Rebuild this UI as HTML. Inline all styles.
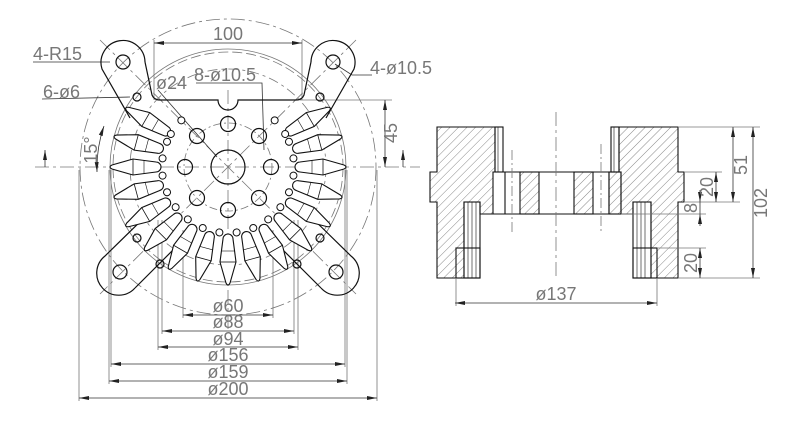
<!DOCTYPE html>
<html><head><meta charset="utf-8"><style>
html,body{margin:0;padding:0;background:#fff}
svg{display:block}
text{font-family:"Liberation Sans",sans-serif;fill:#777;font-size:18px}
</style></head><body>
<svg width="800" height="436" viewBox="0 0 800 436" xmlns="http://www.w3.org/2000/svg">
<defs>
<pattern id="h" patternUnits="userSpaceOnUse" width="6" height="6" patternTransform="rotate(45)">
<line x1="0" y1="0" x2="0" y2="6" stroke="#555" stroke-width="0.7"/>
</pattern>
<g id="tooth">
<path d="M72,-5 L95,-8 L116,-2 Q120,0 116,2 L95,8 L72,5 A5,5 0 0 1 72,-5 Z" fill="#fff" stroke="#111" stroke-width="1.1"/>
<line x1="95" y1="-8" x2="95" y2="8" stroke="#111" stroke-width="0.8"/>
<line x1="84" y1="-6.5" x2="84" y2="6.5" stroke="#111" stroke-width="0.6"/>
</g>
<marker id="a" viewBox="0 0 10 6" refX="10" refY="3" markerWidth="10" markerHeight="6" orient="auto-start-reverse" markerUnits="userSpaceOnUse"><path d="M0,1 L10,3 L0,5 Z" fill="#222"/></marker>
</defs>

<!-- LEFT VIEW -->
<g fill="none" stroke="#777" stroke-width="0.8">
<circle cx="228" cy="167" r="148" stroke-dasharray="14,4,3,4"/>
<circle cx="228" cy="167" r="118"/>
<circle cx="228" cy="167" r="115" stroke-dasharray="10,4"/>
<circle cx="228" cy="167" r="98" stroke-dasharray="10,4,3,4"/>
<circle cx="228" cy="167" r="44" stroke-dasharray="8,3,2,3"/>
<line x1="35" y1="167" x2="420" y2="167" stroke-dasharray="14,4,3,4"/>
<line x1="228" y1="90" x2="228" y2="330" stroke-dasharray="14,4,3,4"/>
<line x1="100" y1="40" x2="356" y2="294" stroke-dasharray="14,4,3,4"/>
<line x1="356" y1="40" x2="100" y2="294" stroke-dasharray="14,4,3,4"/>
<line x1="183" y1="230" x2="183" y2="318"/><line x1="273" y1="230" x2="273" y2="318"/>
<line x1="162" y1="220" x2="162" y2="334"/><line x1="294" y1="220" x2="294" y2="334"/>
<line x1="158" y1="220" x2="158" y2="350"/><line x1="298" y1="220" x2="298" y2="350"/>
<line x1="111" y1="170" x2="111" y2="367"/><line x1="345" y1="170" x2="345" y2="367"/>
<line x1="109" y1="170" x2="109" y2="384"/><line x1="347" y1="170" x2="347" y2="384"/>
<line x1="79" y1="170" x2="79" y2="401"/><line x1="377" y1="170" x2="377" y2="401"/>
<line x1="154" y1="40" x2="154" y2="100"/><line x1="302" y1="40" x2="302" y2="100"/>
<line x1="300" y1="100" x2="392" y2="100"/>
</g>
<g stroke="#333" stroke-width="0.8" fill="none">
<line x1="183" y1="315" x2="273" y2="315" marker-start="url(#a)" marker-end="url(#a)"/>
<line x1="162" y1="331" x2="294" y2="331" marker-start="url(#a)" marker-end="url(#a)"/>
<line x1="158" y1="347" x2="298" y2="347" marker-start="url(#a)" marker-end="url(#a)"/>
<line x1="111" y1="364" x2="345" y2="364" marker-start="url(#a)" marker-end="url(#a)"/>
<line x1="109" y1="381" x2="347" y2="381" marker-start="url(#a)" marker-end="url(#a)"/>
<line x1="79" y1="398" x2="377" y2="398" marker-start="url(#a)" marker-end="url(#a)"/>
<line x1="154" y1="43" x2="302" y2="43" marker-start="url(#a)" marker-end="url(#a)"/>
<line x1="385" y1="100" x2="385" y2="167" marker-start="url(#a)" marker-end="url(#a)"/>
<path d="M104,126 A128,128 0 0 0 97,172" marker-start="url(#a)" marker-end="url(#a)"/>
<path d="M45,167 L45,150" marker-end="url(#a)"/>
<path d="M403,167 L403,150" marker-end="url(#a)"/>
<path d="M33,62 L110,62"/><path d="M42,99 L130,97"/>
<path d="M372,75 L352,75 L335,64"/>
<path d="M158,90 L217,157"/>
<path d="M196,83 L262,83 L264,150"/>
</g>
<text x="33" y="60">4-R15</text>
<text x="43" y="98">6-ø6</text>
<text x="156" y="89">ø24</text>
<text x="194" y="81">8-ø10.5</text>
<text x="370" y="74">4-ø10.5</text>
<text x="228" y="40" text-anchor="middle">100</text>
<text x="397" y="133" transform="rotate(-90 397 133)" text-anchor="middle">45</text>
<text x="97" y="150" transform="rotate(-90 97 150)" text-anchor="middle">15°</text>
<text x="228" y="312" text-anchor="middle">ø60</text>
<text x="228" y="328" text-anchor="middle">ø88</text>
<text x="228" y="345" text-anchor="middle">ø94</text>
<text x="228" y="361" text-anchor="middle">ø156</text>
<text x="228" y="378" text-anchor="middle">ø159</text>
<text x="228" y="395" text-anchor="middle">ø200</text>

<g fill="none" stroke="#111" stroke-width="1.2">
<path d="M145,62 L152,95 Q154,100 160,100 L218,100 A10,10 0 0 0 238,100 L296,100 Q302,100 304,95 L311,62"/>
<path d="M145,62 A22,22 0 1 0 102,69 L130,118"/>
<path d="M311,62 A22,22 0 1 1 354,69 L326,118"/>
<path d="M135,288 A22,22 0 1 1 105,256 L150,212"/>
<path d="M135,288 L185,238"/>
<path d="M321,288 A22,22 0 1 0 351,256 L306,212"/>
<path d="M321,288 L271,238"/>
<circle cx="123" cy="62" r="7"/><circle cx="333" cy="62" r="7"/>
<circle cx="120" cy="272" r="7"/><circle cx="336" cy="272" r="7"/>
<circle cx="228" cy="167" r="17"/>
<circle cx="228" cy="124" r="7.5"/><circle cx="228" cy="210" r="7.5"/>
<circle cx="185" cy="167" r="7.5"/><circle cx="271" cy="167" r="7.5"/>
<circle cx="197" cy="136" r="7.5"/><circle cx="259" cy="136" r="7.5"/>
<circle cx="197" cy="198" r="7.5"/><circle cx="259" cy="198" r="7.5"/>
<circle cx="137" cy="97" r="4"/><circle cx="320" cy="97" r="4"/>
<circle cx="137" cy="238" r="4"/><circle cx="320" cy="238" r="4"/>
<circle cx="160" cy="264" r="4"/><circle cx="297" cy="264" r="4"/>
</g>
<g transform="translate(228,167)">
<use href="#tooth" transform="rotate(-30)"/><use href="#tooth" transform="rotate(-15)"/>
<use href="#tooth" transform="rotate(0)"/><use href="#tooth" transform="rotate(15)"/>
<use href="#tooth" transform="rotate(30)"/><use href="#tooth" transform="rotate(45)"/>
<use href="#tooth" transform="rotate(60)"/><use href="#tooth" transform="rotate(75)"/>
<use href="#tooth" transform="rotate(90)"/><use href="#tooth" transform="rotate(105)"/>
<use href="#tooth" transform="rotate(120)"/><use href="#tooth" transform="rotate(135)"/>
<use href="#tooth" transform="rotate(150)"/><use href="#tooth" transform="rotate(165)"/>
<use href="#tooth" transform="rotate(180)"/><use href="#tooth" transform="rotate(195)"/>
<use href="#tooth" transform="rotate(210)"/>
<g fill="#fff" stroke="#111" stroke-width="1">
<circle cx="0" cy="-66" r="3.5" transform="rotate(-60)"/><circle cx="0" cy="-66" r="3.5" transform="rotate(-45)"/>
<circle cx="0" cy="-66" r="3.5" transform="rotate(45)"/><circle cx="0" cy="-66" r="3.5" transform="rotate(60)"/>
<circle cx="66" cy="0" r="3.5" transform="rotate(-22.5)"/><circle cx="66" cy="0" r="3.5" transform="rotate(-7.5)"/>
<circle cx="66" cy="0" r="3.5" transform="rotate(7.5)"/><circle cx="66" cy="0" r="3.5" transform="rotate(22.5)"/>
<circle cx="66" cy="0" r="3.5" transform="rotate(37.5)"/><circle cx="66" cy="0" r="3.5" transform="rotate(52.5)"/>
<circle cx="66" cy="0" r="3.5" transform="rotate(67.5)"/><circle cx="66" cy="0" r="3.5" transform="rotate(82.5)"/>
<circle cx="66" cy="0" r="3.5" transform="rotate(97.5)"/><circle cx="66" cy="0" r="3.5" transform="rotate(112.5)"/>
<circle cx="66" cy="0" r="3.5" transform="rotate(127.5)"/><circle cx="66" cy="0" r="3.5" transform="rotate(142.5)"/>
<circle cx="66" cy="0" r="3.5" transform="rotate(157.5)"/><circle cx="66" cy="0" r="3.5" transform="rotate(172.5)"/>
<circle cx="66" cy="0" r="3.5" transform="rotate(187.5)"/><circle cx="66" cy="0" r="3.5" transform="rotate(202.5)"/>
</g>
</g>

<!-- RIGHT VIEW -->
<g stroke="#111" stroke-width="1.1">
<path d="M437,127 L495,127 L495,172 L493,172 L493,214 L480,214 L480,202 L464,202 L464,278 L437,278 L437,202 L430,202 L430,172 L437,172 Z" fill="url(#h)"/>
<path d="M678,127 L619,127 L619,172 L621,172 L621,214 L633,214 L633,202 L651,202 L651,278 L678,278 L678,202 L684,202 L684,172 L678,172 Z" fill="url(#h)"/>
<rect x="520" y="172" width="19" height="42" fill="url(#h)"/>
<rect x="574" y="172" width="19" height="42" fill="url(#h)"/>
<rect x="609" y="172" width="12" height="42" fill="url(#h)"/>
<g fill="none">
<rect x="495" y="127" width="8" height="45"/>
<rect x="611" y="127" width="8" height="45"/>
<line x1="493" y1="172" x2="621" y2="172"/>
<line x1="493" y1="214" x2="621" y2="214"/>
<line x1="505" y1="172" x2="505" y2="214"/>
<line x1="609" y1="172" x2="609" y2="214"/>
<rect x="464" y="202" width="16" height="76"/>
<rect x="456" y="248" width="24" height="30"/>
<rect x="633" y="202" width="18" height="76"/>
<rect x="633" y="248" width="24" height="30"/>
</g>
<g fill="none" stroke-width="0.6">
<line x1="468" y1="202" x2="468" y2="278"/><line x1="472" y1="202" x2="472" y2="278"/><line x1="476" y1="202" x2="476" y2="278"/>
<line x1="637" y1="202" x2="637" y2="278"/><line x1="641" y1="202" x2="641" y2="278"/><line x1="645" y1="202" x2="645" y2="278"/>
<line x1="498" y1="127" x2="498" y2="172"/><line x1="614" y1="127" x2="614" y2="172"/>
</g>
</g>
<g fill="none" stroke="#777" stroke-width="0.8">
<line x1="556" y1="112" x2="556" y2="280" stroke-dasharray="14,4,3,4"/>
<line x1="512" y1="150" x2="512" y2="232" stroke-dasharray="10,3,2,3"/>
<line x1="601" y1="144" x2="601" y2="232" stroke-dasharray="10,3,2,3"/>
<line x1="678" y1="127" x2="760" y2="127"/>
<line x1="684" y1="172" x2="722" y2="172"/>
<line x1="684" y1="202" x2="740" y2="202"/>
<line x1="621" y1="214" x2="706" y2="214"/>
<line x1="657" y1="248" x2="706" y2="248"/>
<line x1="678" y1="278" x2="760" y2="278"/>
<line x1="456" y1="278" x2="456" y2="306"/>
<line x1="657" y1="278" x2="657" y2="306"/>
</g>
<g stroke="#333" stroke-width="0.8" fill="none">
<line x1="733" y1="127" x2="733" y2="202" marker-start="url(#a)" marker-end="url(#a)"/>
<line x1="753" y1="127" x2="753" y2="278" marker-start="url(#a)" marker-end="url(#a)"/>
<line x1="716" y1="172" x2="716" y2="202" marker-start="url(#a)" marker-end="url(#a)"/>
<line x1="700" y1="190" x2="700" y2="202" marker-end="url(#a)"/>
<line x1="700" y1="226" x2="700" y2="214" marker-end="url(#a)"/>
<line x1="700" y1="202" x2="700" y2="214"/>
<line x1="700" y1="248" x2="700" y2="278" marker-start="url(#a)" marker-end="url(#a)"/>
<line x1="455" y1="303" x2="657" y2="303" marker-start="url(#a)" marker-end="url(#a)"/>
</g>
<text x="747" y="165" transform="rotate(-90 747 165)" text-anchor="middle">51</text>
<text x="767" y="203" transform="rotate(-90 767 203)" text-anchor="middle">102</text>
<text x="713" y="187" transform="rotate(-90 713 187)" text-anchor="middle">20</text>
<text x="697" y="208" transform="rotate(-90 697 208)" text-anchor="middle">8</text>
<text x="697" y="263" transform="rotate(-90 697 263)" text-anchor="middle">20</text>
<text x="556" y="300" text-anchor="middle">ø137</text>
</svg>
</body></html>
